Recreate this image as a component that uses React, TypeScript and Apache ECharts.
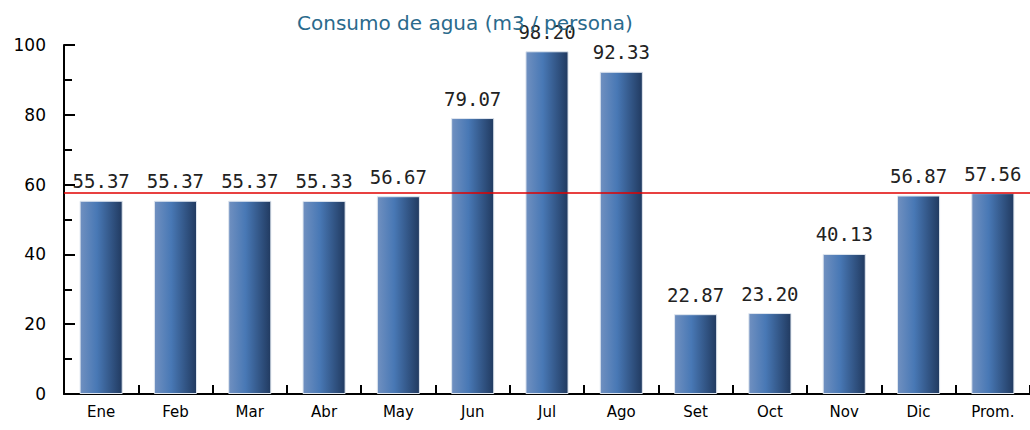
import React, { useEffect, useRef } from "react";
import * as echarts from "echarts";

const categories = ["Ene", "Feb", "Mar", "Abr", "May", "Jun", "Jul", "Ago", "Set", "Oct", "Nov", "Dic", "Prom."];
const values = [55.37, 55.37, 55.37, 55.33, 56.67, 79.07, 98.2, 92.33, 22.87, 23.2, 40.13, 56.87, 57.56];
const averageLine = 57.56;
const titleText = "Consumo de agua (m3 / persona)";
const yMin = 0;
const yMax = 100;
const yInterval = 20;

export default function App() {
  const ref = useRef<HTMLDivElement>(null);
  useEffect(() => {
    document.body.style.margin = "0";
    const chart = echarts.init(ref.current!, null, { renderer: "svg" });
    chart.setOption({
      animation: false,
      backgroundColor: "#ffffff",
      title: {
        text: titleText,
        left: 292,
        top: 8,
        textStyle: { color: "#2a6a8c", fontSize: 20, fontWeight: "normal", fontFamily: "DejaVu Sans" },
      },
      grid: { left: 64, right: 0, top: 45, bottom: 36, containLabel: false },
      xAxis: {
        type: "category",
        data: categories,
        boundaryGap: true,
        axisLine: { lineStyle: { color: "#000", width: 2 } },
        axisTick: { show: true, inside: true, length: 9, alignWithLabel: false, interval: 0, lineStyle: { color: "#000", width: 2 } },
        axisLabel: { color: "#000", fontSize: 15, margin: 10, fontFamily: "DejaVu Sans", interval: 0 },
        splitLine: { show: false },
      },
      yAxis: {
        type: "value",
        min: yMin,
        max: yMax,
        interval: yInterval,
        axisLine: { show: true, lineStyle: { color: "#000", width: 2 } },
        axisTick: { show: true, inside: true, length: 11, lineStyle: { color: "#000", width: 2 } },
        minorTick: { show: true, splitNumber: 2, length: 8, lineStyle: { color: "#000", width: 2 } },
        axisLabel: { color: "#000", fontSize: 17, margin: 18, fontFamily: "DejaVu Sans" },
        splitLine: { show: false },
      },
      series: [
        {
          type: "bar",
          data: values,
          barWidth: "58%",
          itemStyle: {
            borderColor: "#dfe6ef",
            borderWidth: 1,
            color: new echarts.graphic.LinearGradient(0, 0, 1, 0, [
              { offset: 0, color: "#7090c0" },
              { offset: 0.4, color: "#4878b5" },
              { offset: 1, color: "#213a60" },
            ]),
          },
          label: {
            show: true,
            position: "top",
            distance: 10,
            color: "#222",
            fontSize: 19,
            fontFamily: "DejaVu Sans Mono",
            formatter: (p: any) => p.value.toFixed(2),
          },
          markLine: {
            silent: true,
            symbol: "none",
            label: { show: false },
            lineStyle: { color: "#e00000", width: 1.5, type: "solid" },
            data: [{ yAxis: averageLine }],
          },
        },
      ],
    });
    return () => chart.dispose();
  }, []);
  return <div ref={ref} style={{ width: 1030, height: 430, position: "absolute", left: 0, top: 0 }} />;
}
